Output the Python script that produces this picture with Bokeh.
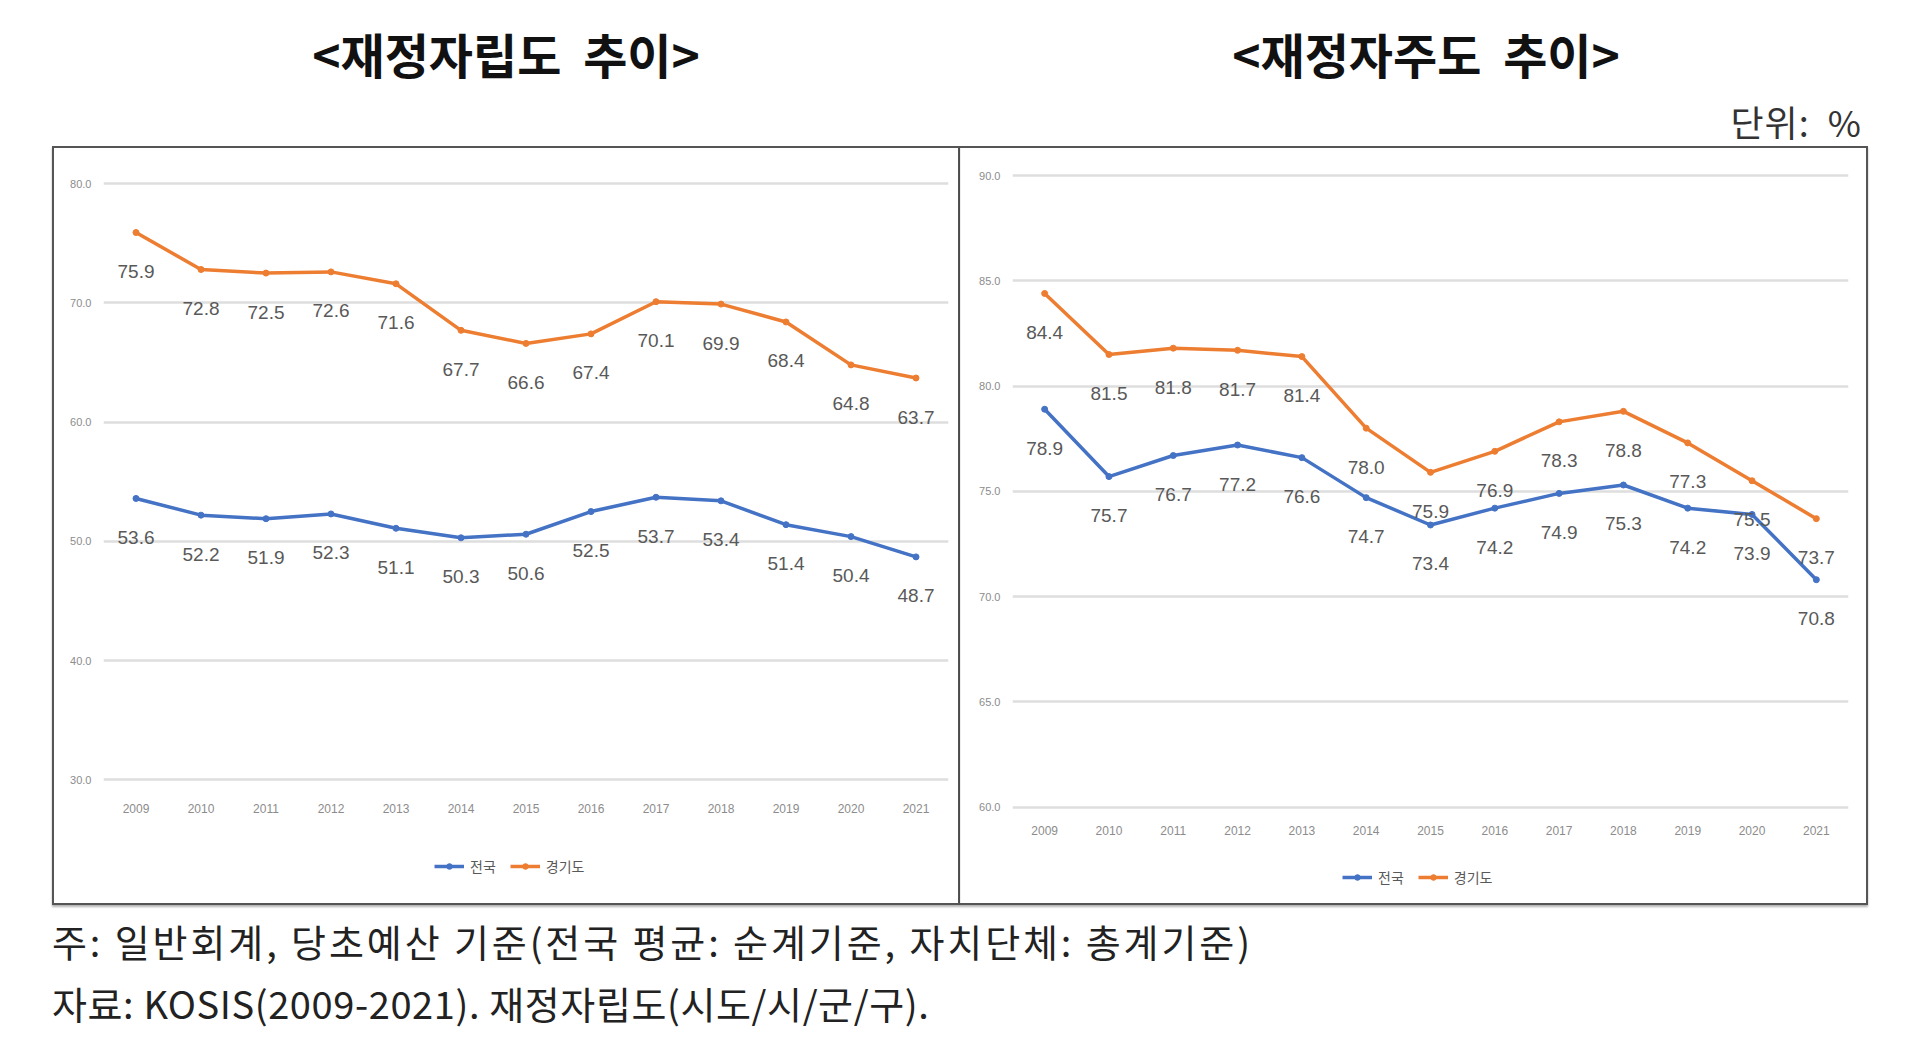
from html import escape
from bokeh.plotting import figure
from bokeh.models import (FactorRange, Range1d, FixedTicker, PrintfTickFormatter,
                          Legend, LegendItem, Div, Spacer)
from bokeh.layouts import column, row
from bokeh.core.properties import value
from bokeh.embed import file_html
from bokeh.resources import INLINE

# ---------------- data ----------------
years = ["2009", "2010", "2011", "2012", "2013", "2014", "2015",
         "2016", "2017", "2018", "2019", "2020", "2021"]
series_names = ["전국", "경기도"]

# 재정자립도 (fiscal independence)
indep_nation = [53.6, 52.2, 51.9, 52.3, 51.1, 50.3, 50.6, 52.5, 53.7, 53.4, 51.4, 50.4, 48.7]
indep_gyeonggi = [75.9, 72.8, 72.5, 72.6, 71.6, 67.7, 66.6, 67.4, 70.1, 69.9, 68.4, 64.8, 63.7]
indep_ticks = [30, 40, 50, 60, 70, 80]

# 재정자주도 (fiscal autonomy)
auto_nation = [78.9, 75.7, 76.7, 77.2, 76.6, 74.7, 73.4, 74.2, 74.9, 75.3, 74.2, 73.9, 70.8]
auto_gyeonggi = [84.4, 81.5, 81.8, 81.7, 81.4, 78.0, 75.9, 76.9, 78.3, 78.8, 77.3, 75.5, 73.7]
auto_ticks = [60, 65, 70, 75, 80, 85, 90]

titles = ["<재정자립도  추이>", "<재정자주도  추이>"]
unit_text = "단위:  %"
note_text = "주: 일반회계, 당초예산 기준(전국 평균: 순계기준, 자치단체: 총계기준)"
source_text = "자료: KOSIS(2009-2021). 재정자립도(시도/시/군/구)."

# ---------------- style / layout ----------------
BLUE = "#4472C4"
ORANGE = "#ED7D31"
KFONT = "Noto Sans CJK KR"
NFONT = "Liberation Sans"
BORDER = "2px solid #555555"
SHADOW = "0 2px 2px rgba(0,0,0,0.3)"

CONTENT_H = 755          # inner height of the framed box
TOP = 10                 # space above the plotting frame
BOTTOM = 15              # space below the plotting frame (axis panel)
FH = CONTENT_H - TOP - BOTTOM


def make_chart(nation, gg, ticks, fw, left, right, top_px, bottom_px,
               label_gap, legend_loc, styles):
    # top_px / bottom_px: pixel rows (inside the box) of the highest / lowest gridline
    ppu = (bottom_px - top_px) / (ticks[-1] - ticks[0])
    y_end = ticks[-1] + (top_px - TOP) / ppu
    y_start = ticks[0] - (TOP + FH - bottom_px) / ppu

    p = figure(x_range=FactorRange(*years), y_range=Range1d(y_start, y_end),
               frame_width=fw, frame_height=FH,
               min_border_left=left, min_border_right=right,
               min_border_top=TOP, min_border_bottom=BOTTOM,
               output_backend="svg", toolbar_location=None,
               outline_line_color=None, background_fill_color="white",
               border_fill_color="white", styles=styles)
    p.x_range.range_padding = 0

    p.xaxis.fixed_location = ticks[0] - label_gap / ppu
    p.xaxis.axis_line_color = None
    p.xaxis.major_tick_line_color = None
    p.xaxis.major_tick_out = 0
    p.xaxis.major_tick_in = 0
    p.xaxis.major_label_standoff = 0
    p.xaxis.major_label_text_font = NFONT
    p.xaxis.major_label_text_font_size = "12px"
    p.xaxis.major_label_text_color = "#8c8c8c"

    p.yaxis.ticker = FixedTicker(ticks=ticks)
    p.yaxis.formatter = PrintfTickFormatter(format="%.1f")
    p.yaxis.axis_line_color = None
    p.yaxis.major_tick_line_color = None
    p.yaxis.minor_tick_line_color = None
    p.yaxis.major_tick_out = 0
    p.yaxis.major_tick_in = 0
    p.yaxis.major_label_standoff = 12
    p.yaxis.major_label_text_font = NFONT
    p.yaxis.major_label_text_font_size = "11px"
    p.yaxis.major_label_text_color = "#8c8c8c"

    p.xgrid.grid_line_color = None
    p.ygrid.ticker = FixedTicker(ticks=ticks)
    p.ygrid.grid_line_color = "#dedede"
    p.ygrid.grid_line_width = 2.5

    items = []
    for vals, col, name in ((nation, BLUE, series_names[0]), (gg, ORANGE, series_names[1])):
        ln = p.line(years, vals, line_color=col, line_width=3.5)
        mk = p.scatter(years, vals, marker="circle", size=6, fill_color=col, line_color=col)
        p.text(x=years, y=vals, text=[f"{v:.1f}" for v in vals], y_offset=39,
               text_align="center", text_baseline="middle",
               text_font=value(NFONT), text_font_size="19px", text_color="#595959")
        items.append(LegendItem(label=name, renderers=[ln, mk]))

    legend = Legend(items=items, orientation="horizontal", location=legend_loc,
                    border_line_color=None, background_fill_alpha=0,
                    label_text_font=KFONT, label_text_font_size="14px",
                    label_text_color="#595959", glyph_width=30, glyph_height=14,
                    label_height=20, label_standoff=6, spacing=14, padding=0, margin=0)
    p.add_layout(legend, "center")
    return p


p1 = make_chart(indep_nation, indep_gyeonggi, indep_ticks, 841, 49, 14,
                35, 628, 24, (331, 16), {"border": BORDER, "box-shadow": SHADOW})
p2 = make_chart(auto_nation, auto_gyeonggi, auto_ticks, 834, 52, 20,
                27, 655, 19, (330, 5),
                {"border": BORDER, "border-left": "none", "box-shadow": SHADOW})

title_style = {"font-family": KFONT, "font-size": "48px", "font-weight": "bold",
               "color": "#111111", "text-align": "center", "line-height": "106px",
               "white-space": "pre"}
t1 = Div(text=escape(titles[0]), width=1012, height=106, margin=0, styles=title_style)
t2 = Div(text=escape(titles[1]), width=828, height=106, margin=0, styles=title_style)

unit = Div(text=escape(unit_text), width=1862, height=40, margin=0,
           styles={"font-family": KFONT, "font-size": "36px", "color": "#333333",
                   "text-align": "right", "line-height": "30px", "white-space": "pre",
                   "letter-spacing": "1px"})

foot_style = {"font-family": KFONT, "font-size": "38px", "color": "#222222",
              "white-space": "pre"}
n1 = Div(text=escape(note_text), width=1700, height=80, margin=0,
         styles=dict(foot_style, **{"line-height": "71px", "letter-spacing": "2.9px"}))
n2 = Div(text=escape(source_text), width=1700, height=36, margin=0,
         styles=dict(foot_style, **{"line-height": "36px", "letter-spacing": "0.6px"}))

layout = column(
    row(t1, t2, spacing=0),
    unit,
    row(Spacer(width=52, height=CONTENT_H + 4, margin=0), p1, p2, spacing=0),
    row(Spacer(width=52, height=80, margin=0), n1, spacing=0),
    row(Spacer(width=52, height=36, margin=0), n2, spacing=0),
    spacing=0,
)

open("out.html", "w").write(file_html(layout, INLINE))
